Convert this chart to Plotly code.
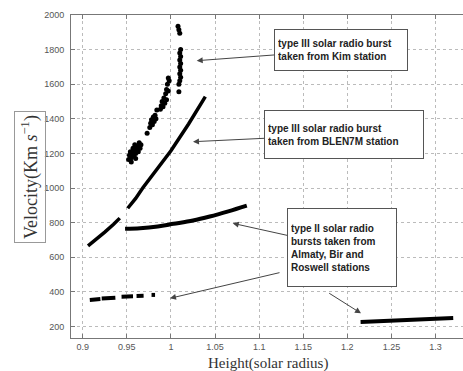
import plotly.graph_objects as go

# ---- data ----
kim_x = [0.952, 0.953, 0.954, 0.955, 0.956, 0.957, 0.958, 0.958, 0.959, 0.960, 0.961, 0.962,
         0.963, 0.964, 0.965, 0.966, 0.955, 0.960,
         0.973,
         0.976, 0.977, 0.978, 0.979, 0.980, 0.981, 0.982, 0.983, 0.984,
         0.988, 0.989, 0.990, 0.991, 0.992, 0.993, 0.994, 0.995, 0.995, 0.996, 0.997, 0.998, 0.997,
         1.009, 1.009, 1.010, 1.011, 1.010, 1.011, 1.010, 1.011, 1.010, 1.011, 1.010, 1.011,
         1.008, 1.009, 1.010]
kim_y = [1165, 1190, 1210, 1175, 1200, 1230, 1185, 1215, 1250, 1200, 1225, 1240,
         1210, 1262, 1230, 1250, 1150, 1170,
         1316,
         1350, 1375, 1395, 1365, 1410, 1385, 1420, 1400, 1451,
         1455, 1475, 1500, 1470, 1520, 1490, 1545, 1510, 1570, 1600, 1560, 1620, 1636,
         1557, 1600, 1620, 1640, 1660, 1680, 1700, 1720, 1740, 1760, 1780, 1800,
         1935, 1915, 1895]

blen_x = [0.906, 0.915, 0.925, 0.935, 0.942, None, 0.951, 0.960, 0.968, 0.984, 1.000, 1.020, 1.039]
blen_y = [665, 700, 745, 790, 826, None, 883, 940, 1000, 1104, 1215, 1370, 1528]

t2_hi_x = [0.948, 0.965, 0.985, 1.003, 1.025, 1.044, 1.065, 1.086]
t2_hi_y = [765, 768, 778, 793, 812, 835, 865, 898]

t2_lo_x = [0.908, 0.920, None, 0.9215, 0.937, None, 0.944, 0.957, None, 0.961, 0.969, None, 0.978, 0.982]
t2_lo_y = [353, 358, None, 362, 366, None, 372, 374, None, 376, 377, None, 382, 382]

t2_far_x = [1.215, 1.250, 1.285, 1.320]
t2_far_y = [225, 232, 240, 249]

x_ticks = [0.9, 0.95, 1.0, 1.05, 1.1, 1.15, 1.2, 1.25, 1.3]
x_tick_text = ["0.9", "0.95", "1", "1.05", "1.1", "1.15", "1.2", "1.25", "1.3"]
y_ticks = [200, 400, 600, 800, 1000, 1200, 1400, 1600, 1800, 2000]

fig = go.Figure()
fig.add_trace(go.Scatter(x=kim_x, y=kim_y, mode="markers",
                         marker=dict(color="black", size=5), showlegend=False))
fig.add_trace(go.Scatter(x=blen_x, y=blen_y, mode="lines",
                         line=dict(color="black", width=3.5), showlegend=False))
fig.add_trace(go.Scatter(x=t2_hi_x, y=t2_hi_y, mode="lines", line_shape="spline",
                         line=dict(color="black", width=4), showlegend=False))
fig.add_trace(go.Scatter(x=t2_lo_x, y=t2_lo_y, mode="lines",
                         line=dict(color="black", width=4), showlegend=False))
fig.add_trace(go.Scatter(x=t2_far_x, y=t2_far_y, mode="lines",
                         line=dict(color="black", width=4), showlegend=False))

tickfont = dict(family="Liberation Sans Narrow, Liberation Sans, Arial, sans-serif", size=9, color="#555")
fig.update_xaxes(range=[0.8867, 1.3311], tickvals=x_ticks, ticktext=x_tick_text,
                 ticks="inside", ticklen=4, tickcolor="#777", showline=True, linecolor="#777",
                 mirror="ticks", showgrid=True, gridcolor="#bbb", griddash="dot", gridwidth=1,
                 tickfont=tickfont, zeroline=False)
fig.update_yaxes(range=[133, 2000], tickvals=y_ticks,
                 ticks="inside", ticklen=4, tickcolor="#777", showline=True, linecolor="#777",
                 mirror=False, showgrid=True, gridcolor="#bbb", griddash="dot", gridwidth=1,
                 tickfont=tickfont, zeroline=False, ticklabelstandoff=4)

boxfont = dict(family="Liberation Sans, Arial, sans-serif", size=10, color="#222")
L, T, W, H = 71, 15, 392, 323
def px(x, y):
    return (x - L) / W, (T + H - y) / H
def data(xp, yp):
    return 0.8867 + (xp - L) / W * (1.3311 - 0.8867), 2000 - (yp - T) / H * (2000 - 133)

anns = []
# text boxes, each with its main arrow (head given in pixel position, converted to data)
for (x0, y0, x1, y1, hxp, hyp, txt) in [
    (274, 29, 408, 71, 196.7, 60.7, "<b>type III solar radio burst<br>taken from Kim station</b>"),
    (264, 110, 424, 159, 193, 141.7, "<b>type III solar radio burst<br>taken from BLEN7M station</b>"),
    (287, 208, 397, 287, 232.7, 223.3, "<b>type II solar radio<br>bursts taken from<br>Almaty, Bir and<br>Roswell stations</b>"),
]:
    hx, hy = data(hxp, hyp)
    cxp, cyp = (x0 + x1) / 2, (y0 + y1) / 2
    anns.append(dict(x=hx, y=hy, xref="x", yref="y", ax=cxp - hxp, ay=cyp - hyp,
                     text=txt, showarrow=True, arrowhead=2, arrowsize=1.2, arrowwidth=1,
                     arrowcolor="#444", align="left", font=boxfont,
                     bordercolor="#555", borderwidth=1, borderpad=3,
                     width=x1 - x0 - 8, height=y1 - y0 - 8, bgcolor="white"))
# extra arrows from the type II box
for (hxp, hyp, txp, typ) in [
    (170, 298.3, 281, 272.3),
    (361, 313.3, 327.7, 292.3),
]:
    hx, hy = data(hxp, hyp)
    anns.append(dict(x=hx, y=hy, xref="x", yref="y", ax=txp - hxp, ay=typ - hyp, text="",
                     showarrow=True, arrowhead=2, arrowsize=1.2, arrowwidth=1, arrowcolor="#444"))
# axis titles
cx, cy = px(29.5, 177.5)
anns.append(dict(xref="paper", yref="paper", x=cx, y=cy, xanchor="center", yanchor="middle",
                 text="Velocity(Km <i>s</i><sup>−1</sup>)", textangle=-90, showarrow=False,
                 font=dict(family="Liberation Serif, Times New Roman, serif", size=18, color="#333"),
                 bordercolor="#999", borderwidth=1, borderpad=3))
cx, cy = px(267.5, 363)
anns.append(dict(xref="paper", yref="paper", x=cx, y=cy, xanchor="center", yanchor="middle",
                 text="Height(solar radius)", showarrow=False,
                 font=dict(family="Liberation Serif, Times New Roman, serif", size=15, color="#333")))

fig.update_layout(width=463, height=371, margin=dict(l=L, r=463 - L - W, t=T, b=371 - T - H),
                  plot_bgcolor="white", paper_bgcolor="white", annotations=anns,
                  showlegend=False)
fig.write_html("out.html")
